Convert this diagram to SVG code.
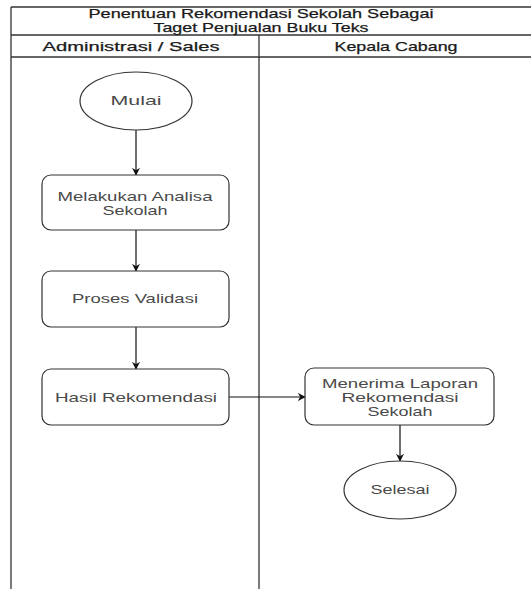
<svg xmlns="http://www.w3.org/2000/svg" width="531" height="589" viewBox="0 0 531 589">
  <style>
    .pool { fill: none; stroke: #333; stroke-width: 1.3; }
    .node { fill: #fff; stroke: #333; stroke-width: 1.2; }
    .head { font-family: "Liberation Sans", Arial, sans-serif; font-size: 13px; fill: #1a1a1a; stroke: #1a1a1a; stroke-width: 0.25; text-anchor: middle; }
    .lbl { font-family: "Liberation Sans", Arial, sans-serif; font-size: 13px; fill: #4a4a4a; text-anchor: middle; }
    .edge { fill: none; stroke: #111; stroke-width: 1.2; }
  </style>
  <defs>
    <marker id="arrow" viewBox="0 0 10 10" refX="9" refY="5" markerWidth="8" markerHeight="8" markerUnits="userSpaceOnUse" orient="auto">
      <path d="M0,0 L10,5 L0,10 L3,5 z" fill="#111"/>
    </marker>
  </defs>
  <rect width="531" height="589" fill="#fff"/>

  <!-- pool frame and lanes -->
  <g id="pool">
    <line class="pool" x1="11" y1="7" x2="531" y2="7"/>
    <line class="pool" x1="11" y1="35" x2="531" y2="35"/>
    <line class="pool" x1="11" y1="57" x2="531" y2="57"/>
    <line class="pool" x1="11" y1="7" x2="11" y2="589"/>
    <line class="pool" x1="259" y1="35" x2="259" y2="589"/>
    <text class="head" x="261" y="18" textLength="345" lengthAdjust="spacingAndGlyphs">Penentuan Rekomendasi Sekolah Sebagai</text>
    <text class="head" x="261" y="32" textLength="215" lengthAdjust="spacingAndGlyphs">Taget Penjualan Buku Teks</text>
    <text class="head" x="131" y="51" textLength="177" lengthAdjust="spacingAndGlyphs">Administrasi / Sales</text>
    <text class="head" x="396" y="51" textLength="123" lengthAdjust="spacingAndGlyphs">Kepala Cabang</text>
  </g>

  <!-- connectors -->
  <g id="connectors">
    <line class="edge" x1="136" y1="130" x2="136" y2="175" marker-end="url(#arrow)"/>
    <line class="edge" x1="136" y1="230" x2="136" y2="271" marker-end="url(#arrow)"/>
    <line class="edge" x1="136" y1="327" x2="136" y2="369" marker-end="url(#arrow)"/>
    <line class="edge" x1="229" y1="397" x2="305" y2="397" marker-end="url(#arrow)"/>
    <line class="edge" x1="400" y1="425" x2="400" y2="461" marker-end="url(#arrow)"/>
  </g>

  <g id="mulai">
    <ellipse class="node" cx="136" cy="101" rx="56" ry="29"/>
    <text class="lbl" x="136" y="105" textLength="51" lengthAdjust="spacingAndGlyphs">Mulai</text>
  </g>
  <g id="analisa">
    <rect class="node" x="42" y="175" width="187" height="55" rx="9"/>
    <text class="lbl" x="135" y="201" textLength="155" lengthAdjust="spacingAndGlyphs">Melakukan Analisa</text>
    <text class="lbl" x="135" y="215" textLength="65" lengthAdjust="spacingAndGlyphs">Sekolah</text>
  </g>
  <g id="validasi">
    <rect class="node" x="42" y="271" width="187" height="56" rx="9"/>
    <text class="lbl" x="135" y="303" textLength="126" lengthAdjust="spacingAndGlyphs">Proses Validasi</text>
  </g>
  <g id="hasil">
    <rect class="node" x="42" y="369" width="187" height="56" rx="9"/>
    <text class="lbl" x="136" y="402" textLength="162" lengthAdjust="spacingAndGlyphs">Hasil Rekomendasi</text>
  </g>
  <g id="laporan">
    <rect class="node" x="305" y="368" width="189" height="57" rx="9"/>
    <text class="lbl" x="400" y="388" textLength="156" lengthAdjust="spacingAndGlyphs">Menerima Laporan</text>
    <text class="lbl" x="400" y="402" textLength="117" lengthAdjust="spacingAndGlyphs">Rekomendasi</text>
    <text class="lbl" x="400" y="416" textLength="65" lengthAdjust="spacingAndGlyphs">Sekolah</text>
  </g>
  <g id="selesai">
    <ellipse class="node" cx="400" cy="490" rx="56" ry="29"/>
    <text class="lbl" x="400" y="494" textLength="59" lengthAdjust="spacingAndGlyphs">Selesai</text>
  </g>
</svg>
